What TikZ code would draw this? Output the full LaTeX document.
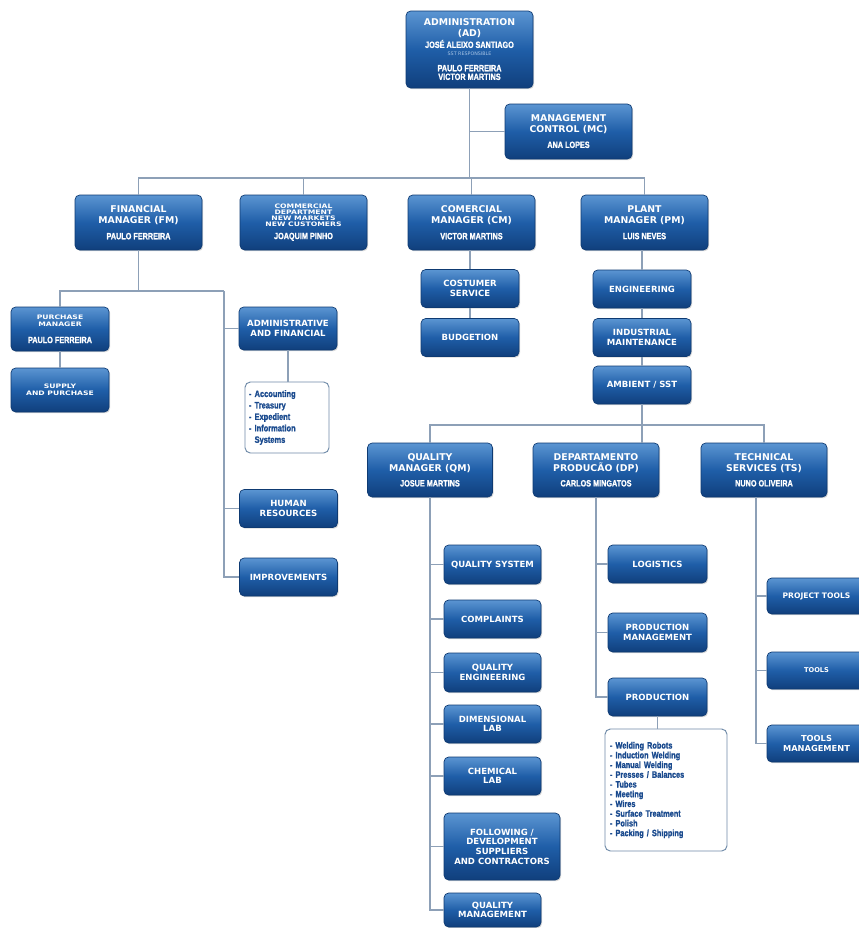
\documentclass[tikz,border=0pt]{standalone}
\usepackage{fontspec}
\setmainfont{DejaVu Sans}
\newfontfamily\condfont[FakeStretch=0.8,FakeBold=1.2]{Liberation Sans Bold}
\newfontfamily\widefont[FakeStretch=1.25]{DejaVu Sans}
\usetikzlibrary{shadows}
\definecolor{boxtop}{HTML}{5B95D2}
\definecolor{boxmid}{HTML}{1F5EA8}
\definecolor{boxbot}{HTML}{103F7C}
\definecolor{boxedge}{HTML}{0E3A72}
\definecolor{linkcol}{HTML}{8DA0B7}
\definecolor{listedge}{HTML}{6F8AA8}
\definecolor{listtext}{HTML}{1A4A8E}
\definecolor{faint}{HTML}{A9C6E6}
\newcommand\ttl{\bfseries\fontsize{7}{8}\selectfont}
\newcommand\ttls{\bfseries\fontsize{6.4}{7.2}\selectfont}
\newcommand\nmf{\condfont\fontsize{6.8}{8}\selectfont}
\newcommand\wdf{\widefont\bfseries\fontsize{4.6}{4.4}\selectfont}
\newcommand\tny{\mdseries\fontsize{3.6}{4}\selectfont}
\newcommand\lista{\condfont\fontsize{7}{8.6}\selectfont}
\newcommand\listb{\condfont\fontsize{6.9}{7.3}\selectfont}
\tikzset{
  unit/.style={draw=boxedge, line width=0.5pt, rounded corners=3.5pt,
    top color=boxtop, bottom color=boxbot, middle color=boxmid,
    text=white, align=center, inner sep=1pt, font=\ttl,
    drop shadow={shadow xshift=0.8pt, shadow yshift=-0.9pt, opacity=0.3}},
  unitw/.style={unit, minimum width=95.25pt, minimum height=41.25pt},
  units/.style={unit, font=\ttls, minimum width=73.5pt, minimum height=28.5pt},
  listbox/.style={draw=listedge, line width=0.7pt, rounded corners=4pt,
    fill=white, text=listtext, align=left, inner sep=3pt},
  link/.style={draw=linkcol, line width=0.9pt},
}
\begin{document}
\begin{tikzpicture}[x=0.75pt,y=-0.75pt]
\fill[white] (0,0) rectangle (858,928);
\useasboundingbox (0,0) rectangle (858,928);

% top level
\node[unitw, minimum height=57.75pt] (AD) at (469.5,49.5)
  {ADMINISTRATION\\(AD)\\[0.5pt]{\nmf JOSÉ ALEIXO SANTIAGO}\\[-2.5pt]{\tny\color{faint}SST RESPONSIBLE}\\[4pt]{\nmf PAULO FERREIRA}\\[-1.5pt]{\nmf VICTOR MARTINS}};
\node[unitw] (MC) at (568.5,131.5) {MANAGEMENT\\CONTROL (MC)\\[3.5pt]{\nmf ANA LOPES}};

% second level
\node[unitw] (FM) at (138.5,222.5) {FINANCIAL\\MANAGER (FM)\\[4pt]{\nmf PAULO FERREIRA}};
\node[unitw, font=\wdf] (CD) at (303.5,222.5) {COMMERCIAL\\DEPARTMENT\\NEW MARKETS\\NEW CUSTOMERS\\[3.8pt]{\nmf JOAQUIM PINHO}};
\node[unitw] (CM) at (471.5,222.5) {COMERCIAL\\MANAGER (CM)\\[4pt]{\nmf VICTOR MARTINS}};
\node[unitw] (PM) at (644.5,222.5) {PLANT\\MANAGER (PM)\\[4pt]{\nmf LUIS NEVES}};

% commercial manager branch
\node[units] (CS) at (470,288.5) {COSTUMER\\SERVICE};
\node[units] (BU) at (470,337.5) {BUDGETION};

% plant manager branch
\node[units] (EN) at (642,289) {ENGINEERING};
\node[units] (IM) at (642,337.5) {INDUSTRIAL\\MAINTENANCE};
\node[units] (AS) at (642,385) {AMBIENT / SST};

% financial manager branch
\node[units, font=\wdf, minimum height=33pt] (PUR) at (60,329) {PURCHASE\\[1pt]MANAGER\\[6.5pt]{\nmf PAULO FERREIRA}};
\node[units, font=\wdf, minimum height=33pt] (SUP) at (60,390) {SUPPLY\\[1pt]AND PURCHASE};
\node[units, minimum height=32.25pt] (AF) at (288,328.5) {ADMINISTRATIVE\\AND FINANCIAL};
\node[listbox, minimum width=63pt, minimum height=53.25pt, text width=57pt, font=\lista] (AFL) at (287,417.5)
  {- Accounting\\- Treasury\\- Expedient\\- Information\\\phantom{- }Systems};
\node[units] (HR) at (288.5,508.5) {HUMAN\\RESOURCES};
\node[units] (IMP) at (288.5,577) {IMPROVEMENTS};

% third level
\node[unitw, minimum width=93.75pt, minimum height=40.5pt] (QM) at (430,470) {QUALITY\\MANAGER (QM)\\[3.5pt]{\nmf JOSUE MARTINS}};
\node[unitw, minimum width=94.5pt, minimum height=40.5pt] (DP) at (596,470) {DEPARTAMENTO\\PRODUCÃO (DP)\\[3.5pt]{\nmf CARLOS MINGATOS}};
\node[unitw, minimum width=94.5pt, minimum height=40.5pt] (TS) at (764,470) {TECHNICAL\\SERVICES (TS)\\[3.5pt]{\nmf NUNO OLIVEIRA}};

% quality children
\node[units, minimum width=72.75pt, minimum height=29.25pt] (QS) at (492.5,564.5) {QUALITY SYSTEM};
\node[units, minimum width=72.75pt] (CO) at (492.5,619) {COMPLAINTS};
\node[units, minimum width=72.75pt, minimum height=29.25pt] (QE) at (492.5,672.5) {QUALITY\\ENGINEERING};
\node[units, minimum width=72.75pt] (DL) at (492.5,724) {DIMENSIONAL\\LAB};
\node[units, minimum width=72.75pt] (CL) at (492.5,776) {CHEMICAL\\LAB};
\node[units, minimum width=87pt, minimum height=50.25pt] (FO) at (502,846.5) {FOLLOWING /\\DEVELOPMENT\\SUPPLIERS\\AND CONTRACTORS};
\node[units, minimum width=72.75pt, minimum height=25.5pt] (QMg) at (492.5,910) {QUALITY\\MANAGEMENT};

% production children
\node[units, minimum width=74.25pt] (LO) at (657.5,564) {LOGISTICS};
\node[units, minimum width=74.25pt, minimum height=29.25pt] (PMg) at (657.5,632.5) {PRODUCTION\\MANAGEMENT};
\node[units, minimum width=74.25pt] (PR) at (657.5,697) {PRODUCTION};
\node[listbox, minimum width=91.5pt, minimum height=91.5pt, text width=84pt, font=\listb] (PRL) at (666,790)
  {- Welding Robots\\- Induction Welding\\- Manual Welding\\- Presses / Balances\\- Tubes\\- Meeting\\- Wires\\- Surface Treatment\\- Polish\\- Packing / Shipping};

% technical services children
\node[units, minimum width=74.25pt, minimum height=27pt, font=\bfseries\fontsize{5.7}{6.6}\selectfont] (PT) at (816.5,596) {PROJECT TOOLS};
\node[units, minimum width=74.25pt, minimum height=27.75pt, font=\bfseries\fontsize{5}{6}\selectfont] (TO) at (816.5,670.5) {TOOLS};
\node[units, minimum width=74.25pt, minimum height=27.75pt, font=\bfseries\fontsize{6.2}{7}\selectfont] (TM) at (816.5,743.5) {TOOLS\\MANAGEMENT};

% connectors
\coordinate (bus1) at (469.5,178);
\draw[link] (AD.south) -- (AD.south |- bus1);
\draw[link] (AD.south |- MC.west) -- (MC.west);
\draw[link] (FM.north) |- (bus1) -| (PM.north);
\draw[link] (CD.north) -- (CD.north |- bus1);
\draw[link] (CM.north) -- (CM.north |- bus1);

\draw[link] (CS.north |- CM.south) -- (CS.north);
\draw[link] (CS.south) -- (BU.north);
\draw[link] (EN.north |- PM.south) -- (EN.north);
\draw[link] (EN.south) -- (IM.north);
\draw[link] (IM.south) -- (AS.north);

\coordinate (bus2) at (642,425);
\draw[link] (AS.south) -- (AS.south |- DP.north);
\draw[link] (QM.north) |- (bus2) -| (TS.north);

\coordinate (fmbus) at (224,291);
\draw[link] (FM.south) -- (FM.south |- fmbus);
\draw[link] (PUR.north) |- (fmbus);
\draw[link] (fmbus) |- (IMP.west);
\draw[link] (fmbus |- AF.west) -- (AF.west);
\draw[link] (fmbus |- HR.west) -- (HR.west);
\draw[link] (PUR.south) -- (SUP.north);
\draw[link] (AF.south) -- (AF.south |- AFL.north);

\draw[link] (QM.south) |- (QMg.west);
\foreach \n in {QS,CO,QE,DL,CL,FO} \draw[link] (QM.south |- \n.west) -- (\n.west);

\draw[link] (DP.south) |- (PR.west);
\foreach \n in {LO,PMg} \draw[link] (DP.south |- \n.west) -- (\n.west);
\draw[link] (PR.south) -- (PR.south |- PRL.north);

\coordinate (tsx) at ([xshift=-6pt]TS.south);
\draw[link] (tsx) |- (TM.west);
\foreach \n in {PT,TO} \draw[link] (tsx |- \n.west) -- (\n.west);
\end{tikzpicture}
\end{document}
